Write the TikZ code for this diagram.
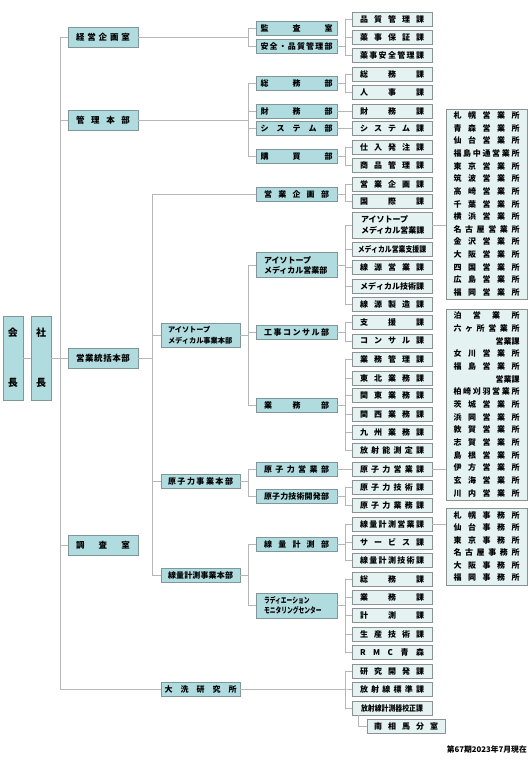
\documentclass[tikz,border=0pt]{standalone}
\usepackage{fontspec}
\setmainfont{Noto Sans CJK JP}
\newfontfamily\condA[FakeStretch=0.72]{Noto Sans CJK JP}
\newfontfamily\condB[FakeStretch=0.86]{Noto Sans CJK JP}
\definecolor{lvfill}{RGB}{176,220,224}
\definecolor{lvbdr}{RGB}{128,150,152}
\definecolor{lffill}{RGB}{228,242,242}
\definecolor{lfbdr}{RGB}{140,146,146}
\definecolor{lnc}{RGB}{182,182,182}
\makeatletter
\newcommand\sprd[2]{\makebox[#1][s]{\sprd@a#2\relax}}
\def\sprd@a#1#2{#1\ifx\relax#2\expandafter\@gobble\else\hfill\expandafter\sprd@a\fi#2}
\makeatother
\newcommand\cn[3]{\draw[ln] (#1.east) -| (#2 |- #3.west) -- (#3.west);}
\begin{document}
\begin{tikzpicture}[x=1pt,y=-1pt,
  base/.style={line width=0.8pt, inner sep=0pt, align=center, font=\fontsize{8}{10}\selectfont\bfseries},
  lv/.style={base, fill=lvfill, draw=lvbdr},
  lf/.style={base, fill=lffill, draw=lfbdr},
  c1/.style={lv, minimum width=70pt, minimum height=20pt, font=\fontsize{8.5}{10}\selectfont\bfseries},
  c2/.style={lv, minimum width=79pt, minimum height=14pt},
  c3/.style={lv, minimum width=81pt, minimum height=14pt},
  c4/.style={lf, minimum width=80pt, minimum height=14pt},
  sales/.style={lf, minimum width=81pt, font=\fontsize{8}{12.65}\selectfont\bfseries},
  ln/.style={draw=lnc, line width=0.7pt}]
\useasboundingbox (0,0) rectangle (528,770);
\coordinate (T0) at (60,0);
\coordinate (B1) at (152,0);
\coordinate (B2) at (248,0);
\coordinate (B3) at (345,0);
\coordinate (B4) at (358,0);

% chairman / president
\node[lv, minimum width=20pt, minimum height=84pt, font=\fontsize{10}{10}\selectfont\bfseries] (kai) at (13,358) {会\\[40pt]長};
\node[lv, minimum width=20pt, minimum height=84pt, font=\fontsize{10}{10}\selectfont\bfseries] (sha) at (41,358) {社\\[40pt]長};

% level 1
\node[c1] (keiei) at (103,37) {\sprd{54pt}{経営企画室}};
\node[c1] (kanri) at (103,120) {\sprd{54pt}{管理本部}};
\node[c1] (eigyo) at (103,358) {\sprd{54pt}{営業統括本部}};
\node[c1] (chosa) at (103,545) {\sprd{54pt}{調査室}};

% level 2
\node[c2, minimum height=24pt, text width=65pt, align=left, font=\fontsize{7.2}{11}\selectfont\bfseries] (imdh) at (200.5,335) {アイソトープ\\メディカル事業本部};
\node[c2] (genh) at (200.5,481) {\sprd{65pt}{原子力事業本部}};
\node[c2] (senh) at (200.5,575) {\sprd{65pt}{線量計測事業本部}};
\node[c2] (oarai) at (200.5,689) {\sprd{72pt}{大洗研究所}};

% level 3
\node[c3] (kansa) at (296.5,28.5) {\sprd{72pt}{監査室}};
\node[c3] (anzen) at (296.5,46) {\sprd{72pt}{安全・品質管理部}};
\node[c3] (somu) at (296.5,83.5) {\sprd{72pt}{総務部}};
\node[c3] (zaimu) at (296.5,111) {\sprd{72pt}{財務部}};
\node[c3] (system) at (296.5,128.5) {\sprd{72pt}{システム部}};
\node[c3] (kobai) at (296.5,156) {\sprd{72pt}{購買部}};
\node[c3] (eikika) at (296.5,194) {\sprd{65pt}{営業企画部}};
\node[c3, minimum height=25pt, text width=65pt, align=left, font=\fontsize{8}{10}\selectfont\bfseries] (imeig) at (296.5,265) {アイソトープ\\メディカル営業部};
\node[c3] (koji) at (296.5,332.5) {\sprd{65pt}{工事コンサル部}};
\node[c3] (gyomu) at (296.5,405) {\sprd{65pt}{業務部}};
\node[c3] (geneig) at (296.5,469) {\sprd{65pt}{原子力営業部}};
\node[c3] (gentech) at (296.5,496) {\sprd{65pt}{原子力技術開発部}};
\node[c3] (senkei) at (296.5,544.5) {\sprd{65pt}{線量計測部}};
\node[c3, minimum height=25pt, text width=65pt, align=left, font=\fontsize{8}{10}\selectfont\bfseries\condA] (rmc) at (296.5,605.5) {ラディエーション\\モニタリングセンター};

% level 4
\node[c4] (hinshitsu) at (392,19.5) {\sprd{64pt}{品質管理課}};
\node[c4] (yakuji) at (392,37.5) {\sprd{64pt}{薬事保証課}};
\node[c4] (yakuan) at (392,55.5) {\sprd{64pt}{薬事安全管理課}};
\node[c4] (somuka) at (392,74) {\sprd{64pt}{総務課}};
\node[c4] (jinji) at (392,92.5) {\sprd{64pt}{人事課}};
\node[c4] (zaimuka) at (392,111) {\sprd{64pt}{財務課}};
\node[c4] (systemka) at (392,128.5) {\sprd{64pt}{システム課}};
\node[c4] (shiire) at (392,147) {\sprd{64pt}{仕入発注課}};
\node[c4] (shohin) at (392,165.5) {\sprd{64pt}{商品管理課}};
\node[c4] (eikikaka) at (392,184) {\sprd{64pt}{営業企画課}};
\node[c4] (kokusai) at (392,201) {\sprd{64pt}{国際課}};
\node[c4, minimum height=26pt, text width=62pt, align=left, font=\fontsize{8}{11}\selectfont\bfseries] (imka) at (392,225) {アイソトープ\\メディカル営業課};
\node[c4, font=\fontsize{8}{10}\selectfont\bfseries\condB] (shienka) at (392,249) {メディカル営業支援課};
\node[c4] (sengen) at (392,267.5) {\sprd{64pt}{線源営業課}};
\node[c4] (medtech) at (392,286) {\sprd{64pt}{メディカル技術課}};
\node[c4] (seizo) at (392,304) {\sprd{64pt}{線源製造課}};
\node[c4] (shien) at (392,322.5) {\sprd{64pt}{支援課}};
\node[c4] (consul) at (392,341) {\sprd{64pt}{コンサル課}};
\node[c4] (gkanri) at (392,359) {\sprd{64pt}{業務管理課}};
\node[c4] (tohoku) at (392,378) {\sprd{64pt}{東北業務課}};
\node[c4] (kanto) at (392,395) {\sprd{64pt}{関東業務課}};
\node[c4] (kansai) at (392,414) {\sprd{64pt}{関西業務課}};
\node[c4] (kyushu) at (392,432) {\sprd{64pt}{九州業務課}};
\node[c4] (hoshano) at (392,450) {\sprd{64pt}{放射能測定課}};
\node[c4] (geneigka) at (392,469) {\sprd{64pt}{原子力営業課}};
\node[c4] (gentechka) at (392,487) {\sprd{64pt}{原子力技術課}};
\node[c4] (gengyomu) at (392,505) {\sprd{64pt}{原子力業務課}};
\node[c4] (senkeika) at (392,524) {\sprd{64pt}{線量計測営業課}};
\node[c4] (service) at (392,542) {\sprd{64pt}{サービス課}};
\node[c4] (senkeitech) at (392,560) {\sprd{64pt}{線量計測技術課}};
\node[c4] (somu2) at (392,579) {\sprd{64pt}{総務課}};
\node[c4] (gyomuka) at (392,597) {\sprd{64pt}{業務課}};
\node[c4] (keisoku) at (392,615) {\sprd{64pt}{計測課}};
\node[c4] (seisan) at (392,634) {\sprd{64pt}{生産技術課}};
\node[c4] (rmcaomori) at (392,652.5) {\sprd{64pt}{RMC青森}};
\node[c4] (kenkyu) at (392,671) {\sprd{64pt}{研究開発課}};
\node[c4] (hyojun) at (392,689) {\sprd{64pt}{放射線標準課}};
\node[c4, font=\fontsize{8}{10}\selectfont\bfseries\condB] (kosei) at (392,708) {放射線計測器校正課};
\node[c4, minimum width=78pt] (minami) at (406,726) {\sprd{64pt}{南相馬分室}};

% sales offices
\node[sales, minimum height=190pt] (sales1) at (486.5,204) {\sprd{66pt}{札幌営業所}\\\sprd{66pt}{青森営業所}\\\sprd{66pt}{仙台営業所}\\\sprd{66pt}{福島中通営業所}\\\sprd{66pt}{東京営業所}\\\sprd{66pt}{筑波営業所}\\\sprd{66pt}{高崎営業所}\\\sprd{66pt}{千葉営業所}\\\sprd{66pt}{横浜営業所}\\\sprd{66pt}{名古屋営業所}\\\sprd{66pt}{金沢営業所}\\\sprd{66pt}{大阪営業所}\\\sprd{66pt}{四国営業所}\\\sprd{66pt}{広島営業所}\\\sprd{66pt}{福岡営業所}};
\node[sales, minimum height=191pt] (sales2) at (486.5,404.5) {\sprd{66pt}{泊営業所}\\\sprd{66pt}{六ヶ所営業所}\\\makebox[66pt][r]{営業課}\\\sprd{66pt}{女川営業所}\\\sprd{66pt}{福島営業所}\\\makebox[66pt][r]{営業課}\\\sprd{66pt}{柏崎刈羽営業所}\\\sprd{66pt}{茨城営業所}\\\sprd{66pt}{浜岡営業所}\\\sprd{66pt}{敦賀営業所}\\\sprd{66pt}{志賀営業所}\\\sprd{66pt}{島根営業所}\\\sprd{66pt}{伊方営業所}\\\sprd{66pt}{玄海営業所}\\\sprd{66pt}{川内営業所}};
\node[sales, minimum height=77pt, font=\fontsize{8}{12.4}\selectfont\bfseries] (sales3) at (486.5,546.5) {\sprd{66pt}{札幌事務所}\\\sprd{66pt}{仙台事務所}\\\sprd{66pt}{東京事務所}\\\sprd{66pt}{名古屋事務所}\\\sprd{66pt}{大阪事務所}\\\sprd{66pt}{福岡事務所}};

\node[anchor=east, inner sep=0pt, font=\fontsize{7.8}{9}\selectfont\bfseries] (note) at (527,750) {第67期2023年7月現在};

% connectors
\draw[ln] (kai.east) -- (sha.west);
\draw[ln] (sha.east) -- (eigyo.west);
\draw[ln] (keiei.west) -- (T0 |- keiei.west) -- (T0 |- oarai.west) -- (oarai.west);
\draw[ln] (kanri.west) -- (T0 |- kanri.west);
\draw[ln] (chosa.west) -- (T0 |- chosa.west);
\cn{keiei}{B2}{kansa}\cn{keiei}{B2}{anzen}
\cn{kanri}{B2}{somu}\cn{kanri}{B2}{zaimu}\cn{kanri}{B2}{system}\cn{kanri}{B2}{kobai}
\cn{eigyo}{B1}{eikika}\cn{eigyo}{B1}{imdh}\cn{eigyo}{B1}{genh}\cn{eigyo}{B1}{senh}
\cn{imdh}{B2}{imeig}\cn{imdh}{B2}{koji}\cn{imdh}{B2}{gyomu}
\cn{genh}{B2}{geneig}\cn{genh}{B2}{gentech}
\cn{senh}{B2}{senkei}\cn{senh}{B2}{rmc}
\cn{anzen}{B3}{hinshitsu}\cn{anzen}{B3}{yakuji}\cn{anzen}{B3}{yakuan}
\cn{somu}{B3}{somuka}\cn{somu}{B3}{jinji}
\draw[ln] (zaimu.east) -- (zaimuka.west);
\draw[ln] (system.east) -- (systemka.west);
\cn{kobai}{B3}{shiire}\cn{kobai}{B3}{shohin}
\cn{eikika}{B3}{eikikaka}\cn{eikika}{B3}{kokusai}
\cn{imeig}{B3}{imka}\cn{imeig}{B3}{shienka}\cn{imeig}{B3}{sengen}\cn{imeig}{B3}{medtech}\cn{imeig}{B3}{seizo}
\cn{koji}{B3}{shien}\cn{koji}{B3}{consul}
\cn{gyomu}{B3}{gkanri}\cn{gyomu}{B3}{tohoku}\cn{gyomu}{B3}{kanto}\cn{gyomu}{B3}{kansai}\cn{gyomu}{B3}{kyushu}\cn{gyomu}{B3}{hoshano}
\draw[ln] (geneig.east) -- (geneigka.west);
\cn{gentech}{B3}{gentechka}\cn{gentech}{B3}{gengyomu}
\cn{senkei}{B3}{senkeika}\cn{senkei}{B3}{service}\cn{senkei}{B3}{senkeitech}
\cn{rmc}{B3}{somu2}\cn{rmc}{B3}{gyomuka}\cn{rmc}{B3}{keisoku}\cn{rmc}{B3}{seisan}\cn{rmc}{B3}{rmcaomori}
\cn{oarai}{B3}{kenkyu}\cn{oarai}{B3}{hyojun}\cn{oarai}{B3}{kosei}
\draw[ln] (B4 |- kosei.south) |- (minami.west);
\draw[ln] (imka.east) -- (imka.east -| sales1.west);
\draw[ln] (geneigka.east) -- (geneigka.east -| sales2.west);
\draw[ln] (senkeika.east) -- (senkeika.east -| sales3.west);
\end{tikzpicture}
\end{document}
